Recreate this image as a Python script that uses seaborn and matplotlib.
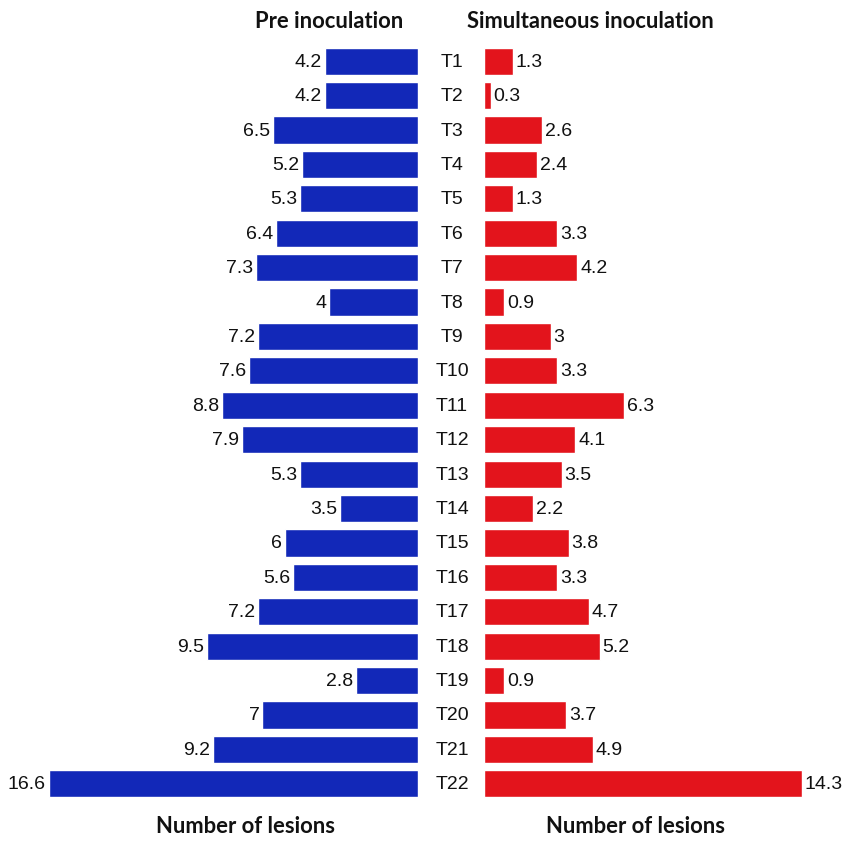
import matplotlib
matplotlib.use("Agg")
import matplotlib.pyplot as plt
import seaborn as sns
import pandas as pd

# values
treatments = ["T%d" % i for i in range(1, 23)]
pre_values = [4.2, 4.2, 6.5, 5.2, 5.3, 6.4, 7.3, 4, 7.2, 7.6, 8.8,
              7.9, 5.3, 3.5, 6, 5.6, 7.2, 9.5, 2.8, 7, 9.2, 16.6]
sim_values = [1.3, 0.3, 2.6, 2.4, 1.3, 3.3, 4.2, 0.9, 3, 3.3, 6.3,
              4.1, 3.5, 2.2, 3.8, 3.3, 4.7, 5.2, 0.9, 3.7, 4.9, 14.3]

df = pd.DataFrame({"treatment": treatments, "pre": pre_values, "sim": sim_values})

sns.set_style("white")
plt.rcParams["font.family"] = ["Liberation Sans", "DejaVu Sans"]

W, H = 851, 845
fig = plt.figure(figsize=(W / 100, H / 100), dpi=100)

px = 22.25  # pixels per unit
top, bottom = 45, 802

def ax_rect(left_px, width_px):
    return [left_px / W, 1 - bottom / H, width_px / W, (bottom - top) / H]

left_max = 18
ax_l = fig.add_axes(ax_rect(418 - left_max * px, left_max * px))
right_max = 16
ax_r = fig.add_axes(ax_rect(484, right_max * px))

blue = "#1228B8"
red = "#E3141C"

sns.barplot(data=df, x="pre", y="treatment", ax=ax_l, color=blue,
            width=0.79, saturation=1, orient="h")
sns.barplot(data=df, x="sim", y="treatment", ax=ax_r, color=red,
            width=0.79, saturation=1, orient="h")

ax_l.set_xlim(left_max, 0)
ax_r.set_xlim(0, right_max)

for ax, vals, side, dx in [(ax_l, pre_values, "right", -2), (ax_r, sim_values, "left", 2)]:
    ax.set_ylim(len(treatments) - 0.5, -0.5)
    ax.set_xlabel("")
    ax.set_ylabel("")
    ax.set_xticks([])
    ax.set_yticks([])
    for s in ax.spines.values():
        s.set_visible(False)
    ax.patch.set_alpha(0)
    for i, v in enumerate(vals):
        ax.annotate("%g" % v, (v, i), xytext=(dx, 0), textcoords="offset points",
                    ha=side, va="center", fontsize=14, color="#111111")

# treatment labels in the gap
for i, t in enumerate(treatments):
    ax_r.text(-32 / px, i, t, ha="center", va="center", fontsize=14,
              color="#111111")

title_font = ["Lato", "DejaVu Sans"]
fig.text(329 / W, 1 - 21 / H, "Pre inoculation", ha="center", va="center",
         fontsize=15.8, fontweight="bold", family=title_font, color="#111111")
fig.text(590 / W, 1 - 21 / H, "Simultaneous inoculation", ha="center",
         va="center", fontsize=15.8, fontweight="bold", family=title_font,
         color="#111111")
fig.text(246 / W, 1 - 827 / H, "Number of lesions", ha="center", va="center",
         fontsize=15.8, fontweight="bold", family=title_font, color="#111111")
fig.text(635 / W, 1 - 827 / H, "Number of lesions", ha="center", va="center",
         fontsize=15.8, fontweight="bold", family=title_font, color="#111111")

fig.savefig("out.png", dpi=100, facecolor="white")
